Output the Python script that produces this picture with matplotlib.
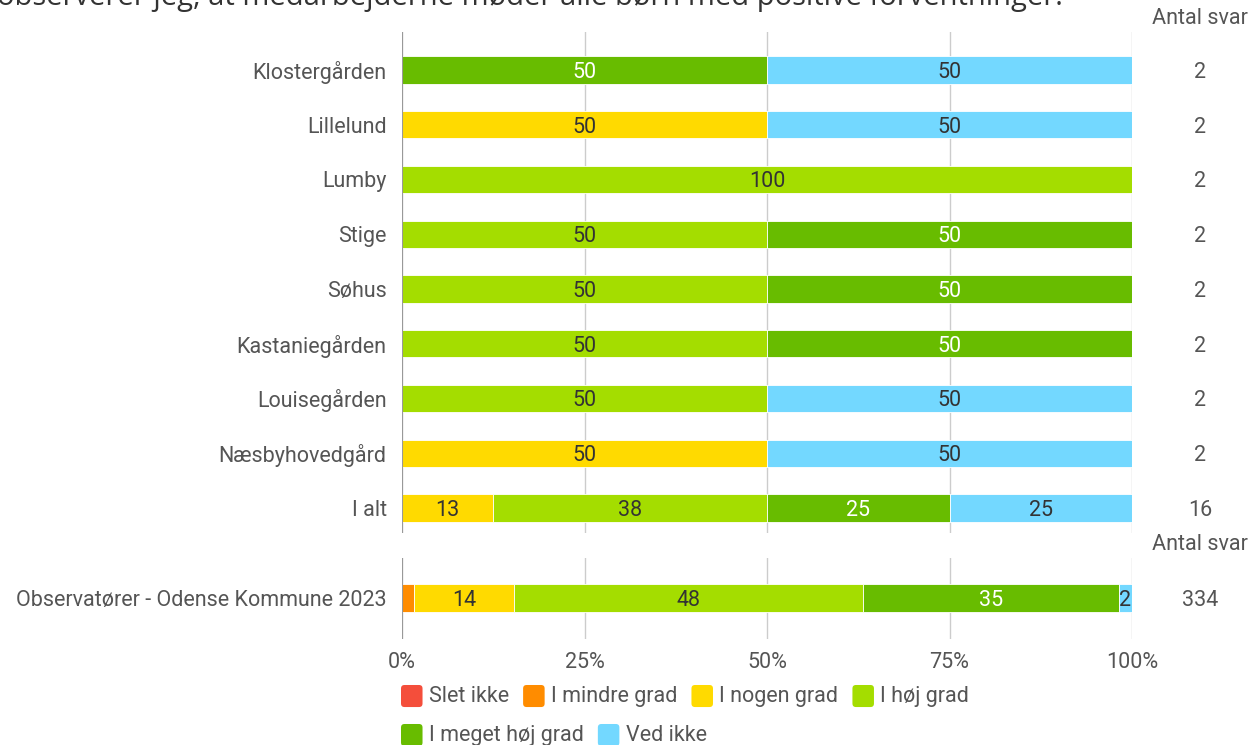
import matplotlib.pyplot as plt
import numpy as np
from matplotlib.patches import FancyBboxPatch, Patch
from matplotlib.legend_handler import HandlerPatch

plt.rcParams['font.family'] = ['Roboto', 'DejaVu Sans']

categories = ['Slet ikke', 'I mindre grad', 'I nogen grad', 'I høj grad',
              'I meget høj grad', 'Ved ikke']
colors = ['#F44E3B', '#FF8C00', '#FFDA00', '#A4DD00', '#68BC00', '#73D8FF']
text_colors = ['#333333', '#333333', '#333333', '#333333', 'white', '#333333']

groups = ['Klostergården', 'Lillelund', 'Lumby', 'Stige', 'Søhus',
          'Kastaniegården', 'Louisegården', 'Næsbyhovedgård', 'I alt']
# percentages per category (columns follow categories)
values = np.array([
    [0, 0, 0, 0, 50, 50],
    [0, 0, 50, 0, 0, 50],
    [0, 0, 0, 100, 0, 0],
    [0, 0, 0, 50, 50, 0],
    [0, 0, 0, 50, 50, 0],
    [0, 0, 0, 50, 50, 0],
    [0, 0, 0, 50, 0, 50],
    [0, 0, 50, 0, 0, 50],
    [0, 0, 12.5, 37.5, 25, 25],
])
counts = [2, 2, 2, 2, 2, 2, 2, 2, 16]

bench_label = ['Observatører - Odense Kommune 2023']
bench_values = np.array([[0, 1.6, 13.8, 47.7, 35.1, 1.8]])
bench_counts = [334]

title = 'observerer jeg, at medarbejderne møder alle børn med positive forventninger.'

FS = 15.5
W, H = 1253, 745
fig = plt.figure(figsize=(W / 100, H / 100), dpi=100)

x0, x1 = 402 / W, 1132 / W
ax1 = fig.add_axes([x0, 1 - 533 / H, x1 - x0, (533 - 32) / H])
ax2 = fig.add_axes([x0, 1 - 639 / H, x1 - x0, (639 - 558) / H])

label_col = '#555555'


def draw(ax, names, vals, cnts, top, bottom):
    y = np.arange(len(names))
    left = np.zeros(len(names))
    for j in range(vals.shape[1]):
        w = vals[:, j]
        ax.barh(y, w, left=left, height=0.5, color=colors[j],
                edgecolor='white', linewidth=0.6, zorder=3)
        for i in range(len(names)):
            if w[i] >= 1.7:
                ax.text(left[i] + w[i] / 2, y[i], str(int(np.floor(w[i] + 0.5))),
                        ha='center', va='center_baseline', fontsize=FS,
                        color=text_colors[j], zorder=4)
        left += w
    for i in range(len(names)):
        ax.text(1.093, y[i], str(cnts[i]), transform=ax.get_yaxis_transform(),
                ha='center', va='center_baseline', fontsize=FS, color=label_col)
    ax.set_ylim(bottom, top)
    ax.set_xlim(0, 100)
    ax.set_yticks(y)
    ax.set_yticklabels(names, fontsize=FS, color=label_col)
    ax.tick_params(axis='y', length=0, pad=11)
    ax.set_xticks([0, 25, 50, 75, 100])
    ax.grid(axis='x', color='#CCCCCC', linewidth=1, zorder=0)
    for s in ax.spines.values():
        s.set_visible(False)
    ax.axvline(0, color='#999999', linewidth=1.5, zorder=5)
    ax.text(1.093, top - 0.05, 'Antal svar', transform=ax.get_yaxis_transform(),
            ha='center', va='bottom', fontsize=FS, color=label_col)


draw(ax1, groups, values, counts, -0.694, 8.457)
draw(ax2, bench_label, bench_values, bench_counts, -0.73, 0.75)

ax1.tick_params(axis='x', length=0, labelbottom=False)
ax2.set_xticklabels(['0%', '25%', '50%', '75%', '100%'], fontsize=FS, color=label_col)
ax2.tick_params(axis='x', length=0, pad=9)

# the title sits mostly above the picture, as in the original export
fig.text(-3 / W, 1 - 5 / H, title, fontsize=21, color='#333333',
         family=['Open Sans', 'DejaVu Sans'], ha='left', va='baseline')


class RoundBox(HandlerPatch):
    def create_artists(self, legend, orig, xdescent, ydescent, width, height,
                       fontsize, trans):
        p = FancyBboxPatch((-xdescent, -ydescent - 2), width, height + 2,
                           boxstyle='round,pad=0,rounding_size=2.5',
                           facecolor=orig.get_facecolor(), edgecolor='none',
                           transform=trans)
        return [p]


rows = [categories[:4], categories[4:]]
for cats, ypix in zip(rows, [696, 735]):
    handles = [Patch(facecolor=colors[categories.index(c)]) for c in cats]
    fig.legend(handles, cats, loc='center left', bbox_to_anchor=(401 / W, 1 - ypix / H),
               ncol=len(cats), frameon=False, fontsize=FS, handlelength=1.0,
               handleheight=1.0, handletextpad=0.3, columnspacing=0.65,
               labelcolor=label_col, borderpad=0, borderaxespad=0,
               handler_map={Patch: RoundBox()})

fig.savefig('out.png', dpi=100)
